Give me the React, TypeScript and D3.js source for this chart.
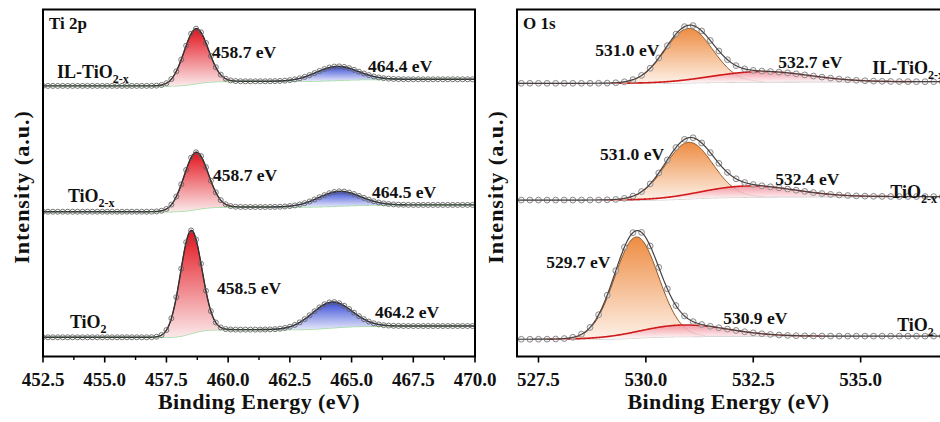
import React from 'react';
import * as d3 from 'd3';

const W = 940;
const H = 422;
const FONT = '"Liberation Serif", "Times New Roman", Times, serif';

// ---------- Ti 2p panel data ----------
const tiTicks = [452.5, 455.0, 457.5, 460.0, 462.5, 465.0, 467.5, 470.0];
const tiSampleBase = ['IL-TiO', 'TiO', 'TiO'];
const tiSampleSub = ['2-x', '2-x', '2'];
const tiPeak1Center = [458.7, 458.7, 458.5];
const tiPeak1Height = [1.58, 1.64, 2.96];
const tiPeak1Fwhm = [1.15, 1.15, 1.02];
const tiPeak2Center = [464.4, 464.5, 464.2];
const tiPeak2Height = [0.4, 0.42, 0.74];
const tiPeak2Fwhm = [2.0, 2.0, 1.9];
const tiBgLow = [7.79, 4.175, 0.566];
const tiBgHigh = [7.98, 4.37, 0.89];
const tiLabel1E = [459.35, 459.39, 459.55];
const tiLabel1I = [8.6, 5.06, 1.81];
const tiLabel2E = [465.67, 465.83, 465.95];
const tiLabel2I = [8.2, 4.57, 1.12];
const tiSampleE = [453.07, 453.51, 453.59];
const tiSampleI = [8.02, 4.45, 0.83];

// ---------- O 1s panel data ----------
const oTicks = [527.5, 530.0, 532.5, 535.0];
const oSampleBase = ['IL-TiO', 'TiO', 'TiO'];
const oSampleSub = ['2-x', '2-x', '2'];
const oPeak1Center = [531.0, 531.0, 529.7];
const oPeak1Pos = [531.0, 531.0, 529.78];
const oPeak1Height = [1.56, 1.62, 2.9];
const oPeak1Fwhm = [1.3, 1.3, 1.2];
const oPeak2Center = [532.7, 532.4, 530.9];
const oPeak2Height = [0.3, 0.32, 0.33];
const oPeak2Fwhm = [2.6, 2.5, 2.4];
const oBgLow = [7.865, 4.51, 0.51];
const oBgHigh = [7.91, 4.61, 0.6];
const oLabel1E = [528.82, 528.93, 527.68];
const oLabel1I = [8.66, 5.66, 2.56];
const oLabel2E = [533.08, 533.01, 531.8];
const oLabel2I = [8.3, 4.94, 0.95];
const oSampleE = [535.27, 535.69, 535.85];
const oSampleI = [8.13, 4.57, 0.75];

function erf(x: number) {
  const t = 1 / (1 + 0.3275911 * Math.abs(x));
  const yv =
    1 -
    ((((1.061405429 * t - 1.453152027) * t + 1.421413741) * t - 0.284496736) * t + 0.254829592) *
      t *
      Math.exp(-x * x);
  return x >= 0 ? yv : -yv;
}

type Peak = { c: number; h: number; fwhm: number };

function makeModel(peaks: Peak[], bgLow: number, bgHigh: number) {
  const sig = peaks.map((p) => p.fwhm / (2 * Math.sqrt(2 * Math.LN2)));
  const areas = peaks.map((p, i) => p.h * sig[i]);
  const total = d3.sum(areas);
  const g = (i: number, e: number) =>
    peaks[i].h * Math.exp((-4 * Math.LN2 * (e - peaks[i].c) ** 2) / peaks[i].fwhm ** 2);
  const bg = (e: number) => {
    let a = 0;
    peaks.forEach((p, i) => {
      a += areas[i] * 0.5 * (1 + erf((e - p.c) / (sig[i] * Math.SQRT2)));
    });
    return bgLow + ((bgHigh - bgLow) * a) / total;
  };
  const env = (e: number) => bg(e) + d3.sum(peaks, (_, i) => g(i, e));
  return { g, bg, env };
}

const yScale = d3.scaleLinear().domain([0, 10]).range([357, 9]);

type PanelProps = {
  id: string;
  x: d3.ScaleLinear<number, number>;
  ticks: number[];
  title: string;
  kind: 'ti' | 'o';
};

function Panel({ id, x, ticks, title, kind }: PanelProps) {
  const [d0, d1] = x.domain();
  const [r0, r1] = x.range();
  const top = 9.5;
  const bottom = 356.5;
  const isTi = kind === 'ti';
  const c1 = isTi ? tiPeak1Center : oPeak1Center;
  const p1 = isTi ? tiPeak1Center : oPeak1Pos;
  const h1 = isTi ? tiPeak1Height : oPeak1Height;
  const f1 = isTi ? tiPeak1Fwhm : oPeak1Fwhm;
  const c2 = isTi ? tiPeak2Center : oPeak2Center;
  const h2 = isTi ? tiPeak2Height : oPeak2Height;
  const f2 = isTi ? tiPeak2Fwhm : oPeak2Fwhm;
  const bl = isTi ? tiBgLow : oBgLow;
  const bh = isTi ? tiBgHigh : oBgHigh;
  const l1E = isTi ? tiLabel1E : oLabel1E;
  const l1I = isTi ? tiLabel1I : oLabel1I;
  const l2E = isTi ? tiLabel2E : oLabel2E;
  const l2I = isTi ? tiLabel2I : oLabel2I;
  const sE = isTi ? tiSampleE : oSampleE;
  const sI = isTi ? tiSampleI : oSampleI;
  const sBase = isTi ? tiSampleBase : oSampleBase;
  const sSub = isTi ? tiSampleSub : oSampleSub;

  const fine = d3.range(d0, d1 + 0.001, 0.02);
  const pts = isTi ? d3.range(d0, d1 + 0.001, 0.2) : d3.range(d0 + 0.1, d1, 0.2);

  const lineGen = (f: (e: number) => number) =>
    d3
      .line<number>()
      .x((e) => x(e))
      .y((e) => yScale(f(e)))(fine) as string;

  const minors = d3
    .range(d0, d1 + 0.001, 0.625)
    .filter((v) => {
      const k = (v - 452.5) / 1.25;
      return Math.abs(k - Math.round(k)) < 1e-6 && x(v) < W;
    })
    .filter((v) => !ticks.some((t) => Math.abs(t - v) < 1e-6));

  const grad1 = isTi ? ['#e3121c', '#fbe9ea'] : ['#ee8c42', '#fdf1e8'];
  const grad2 = isTi ? ['#3a4ed6', '#e4e7fa'] : ['#f18a98', '#ffffff'];

  return (
    <g>
      <defs>
        <clipPath id={`${id}-clip`}>
          <rect x={r0} y={top} width={r1 - r0} height={bottom - top} />
        </clipPath>
        <linearGradient id={`${id}-g1`} x1="0" y1="0" x2="0" y2="1">
          <stop offset="0%" stopColor={grad1[0]} />
          <stop offset="100%" stopColor={grad1[1]} />
        </linearGradient>
        <linearGradient id={`${id}-g2`} x1="0" y1="0" x2="0" y2="1">
          <stop offset="0%" stopColor={grad2[0]} />
          <stop offset="100%" stopColor={grad2[1]} />
        </linearGradient>
      </defs>
      <g clipPath={`url(#${id}-clip)`}>
        {c1.map((_, s) => {
          const peaks: Peak[] = [
            { c: p1[s], h: h1[s], fwhm: f1[s] },
            { c: c2[s], h: h2[s], fwhm: f2[s] },
          ];
          const m = makeModel(peaks, bl[s], bh[s]);
          const span = (i: number) =>
            fine.filter((e) => Math.abs(e - peaks[i].c) < peaks[i].fwhm * 1.35);
          const compArea = (i: number) =>
            d3
              .area<number>()
              .x((e) => x(e))
              .y0((e) => yScale(m.bg(e)))
              .y1((e) => yScale(m.bg(e) + m.g(i, e)))(span(i)) as string;
          const compLine = (i: number) =>
            d3
              .line<number>()
              .x((e) => x(e))
              .y((e) => yScale(m.bg(e) + m.g(i, e)))(span(i)) as string;
          return (
            <g key={s}>
              <path
                d={lineGen(m.bg)}
                fill="none"
                stroke={isTi ? '#a6dea6' : '#d2d2d2'}
                strokeWidth={1.6}
              />
              <path d={compArea(0)} fill={`url(#${id}-g1)`} />
              <path
                d={compLine(0)}
                fill="none"
                stroke={isTi ? '#6a1c1c' : '#8a5424'}
                strokeWidth={1}
              />
              <path d={compArea(1)} fill={`url(#${id}-g2)`} opacity={isTi ? 1 : 0.85} />
              <path
                d={compLine(1)}
                fill="none"
                stroke={isTi ? '#2c2c70' : '#d01a1a'}
                strokeWidth={isTi ? 1 : 1.6}
              />
              {isTi && <path d={lineGen(m.env)} fill="none" stroke="#333" strokeWidth={1.4} />}
              {pts.map((e, k) => (
                <circle
                  key={k}
                  cx={x(e)}
                  cy={yScale(m.env(e))}
                  r={isTi ? 2.5 : 2.9}
                  fill={isTi ? 'none' : 'rgba(235,235,235,0.6)'}
                  stroke={isTi ? '#5e5e5e' : '#8c8c8c'}
                  strokeWidth={isTi ? 0.85 : 1}
                />
              ))}
              {!isTi && <path d={lineGen(m.env)} fill="none" stroke="#4a4040" strokeWidth={1.2} />}
            </g>
          );
        })}
      </g>

      {/* labels */}
      <g fontFamily={FONT} fontWeight="bold" fill="#111">
        <text x={r0 + 6} y={29} fontSize={17}>
          {title}
        </text>
        {c1.map((_, s) => (
          <g key={s}>
            <text x={x(l1E[s])} y={yScale(l1I[s])} fontSize={17.5}>
              {`${c1[s].toFixed(1)} eV`}
            </text>
            <text x={x(l2E[s])} y={yScale(l2I[s])} fontSize={17.5}>
              {`${c2[s].toFixed(1)} eV`}
            </text>
            <text x={x(sE[s])} y={yScale(sI[s])} fontSize={18}>
              {sBase[s]}
              <tspan fontSize={12} dy={5}>
                {sSub[s]}
              </tspan>
            </text>
          </g>
        ))}
      </g>

      {/* frame */}
      <rect
        x={r0}
        y={top}
        width={r1 - r0}
        height={bottom - top}
        fill="none"
        stroke="#000"
        strokeWidth={2}
      />
      {/* ticks */}
      {ticks.map((t) => (
        <g key={t}>
          <line x1={x(t)} x2={x(t)} y1={bottom} y2={bottom + 6} stroke="#000" strokeWidth={1.6} />
          <text
            x={x(t)}
            y={386}
            textAnchor="middle"
            fontFamily={FONT}
            fontWeight="bold"
            fontSize={19}
            fill="#111"
          >
            {t.toFixed(1)}
          </text>
        </g>
      ))}
      {minors.map((t) => (
        <line
          key={`m${t}`}
          x1={x(t)}
          x2={x(t)}
          y1={bottom}
          y2={bottom + 3.5}
          stroke="#000"
          strokeWidth={1.4}
        />
      ))}
      <text
        x={(r0 + Math.min(r1, W)) / 2}
        y={409}
        textAnchor="middle"
        fontFamily={FONT}
        fontWeight="bold"
        fontSize={22}
        letterSpacing={0.4}
        fill="#111"
      >
        Binding Energy (eV)
      </text>
      <text
        transform={`translate(${r0 - 14},187) rotate(-90)`}
        textAnchor="middle"
        fontFamily={FONT}
        fontWeight="bold"
        fontSize={22}
        letterSpacing={1}
        fill="#111"
      >
        Intensity (a.u.)
      </text>
    </g>
  );
}

export default function App() {
  const xL = d3.scaleLinear().domain([452.5, 470]).range([43, 475]);
  const xR = d3.scaleLinear().domain([527, 538]).range([517, 989.5]);
  return (
    <svg
      width={W}
      height={H}
      viewBox={`0 0 ${W} ${H}`}
      style={{ position: 'fixed', left: 0, top: 0, background: '#fff', display: 'block' }}
    >
      <rect x={0} y={0} width={W} height={H} fill="#fff" />
      <Panel id="ti" x={xL} ticks={tiTicks} title="Ti 2p" kind="ti" />
      <Panel id="o" x={xR} ticks={oTicks} title="O 1s" kind="o" />
    </svg>
  );
}
